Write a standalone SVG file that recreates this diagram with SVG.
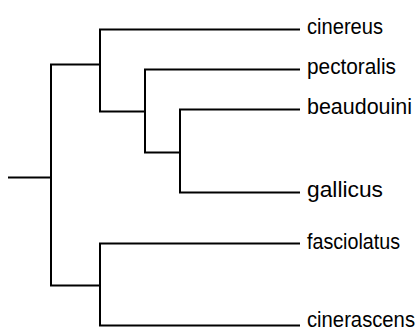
<svg xmlns="http://www.w3.org/2000/svg" width="417" height="328" viewBox="0 0 417 328">
<style>
.e{fill:none;stroke:#000;stroke-width:2;stroke-linecap:square;stroke-linejoin:miter}
.t{font-family:"Liberation Sans",Arial,sans-serif;font-size:22px;fill:#000}
</style>
<rect width="417" height="328" fill="#fff"/>
<g id="edges">
<path class="e" d="M9,177.5H51"/>
<path class="e" d="M100,64.5H51V285.5H100"/>
<path class="e" d="M299,29.5H100V111.5H145"/>
<path class="e" d="M299,69.5H145V152.5H180"/>
<path class="e" d="M299,109.5H180V192.5H299"/>
<path class="e" d="M299,243.5H100V325.5H299"/>
</g>
<g id="cinereus"><text class="t" x="307" y="33.5" textLength="76" lengthAdjust="spacingAndGlyphs">cinereus</text></g>
<g id="pectoralis"><text class="t" x="307" y="73.5" textLength="89" lengthAdjust="spacingAndGlyphs">pectoralis</text></g>
<g id="beaudouini"><text class="t" x="307" y="114" textLength="105" lengthAdjust="spacingAndGlyphs">beaudouini</text></g>
<g id="gallicus"><text class="t" x="307" y="196.5" textLength="76" lengthAdjust="spacingAndGlyphs">gallicus</text></g>
<g id="fasciolatus"><text class="t" x="307" y="248.5" textLength="93" lengthAdjust="spacingAndGlyphs">fasciolatus</text></g>
<g id="cinerascens"><text class="t" x="307" y="327" textLength="108" lengthAdjust="spacingAndGlyphs">cinerascens</text></g>
</svg>
